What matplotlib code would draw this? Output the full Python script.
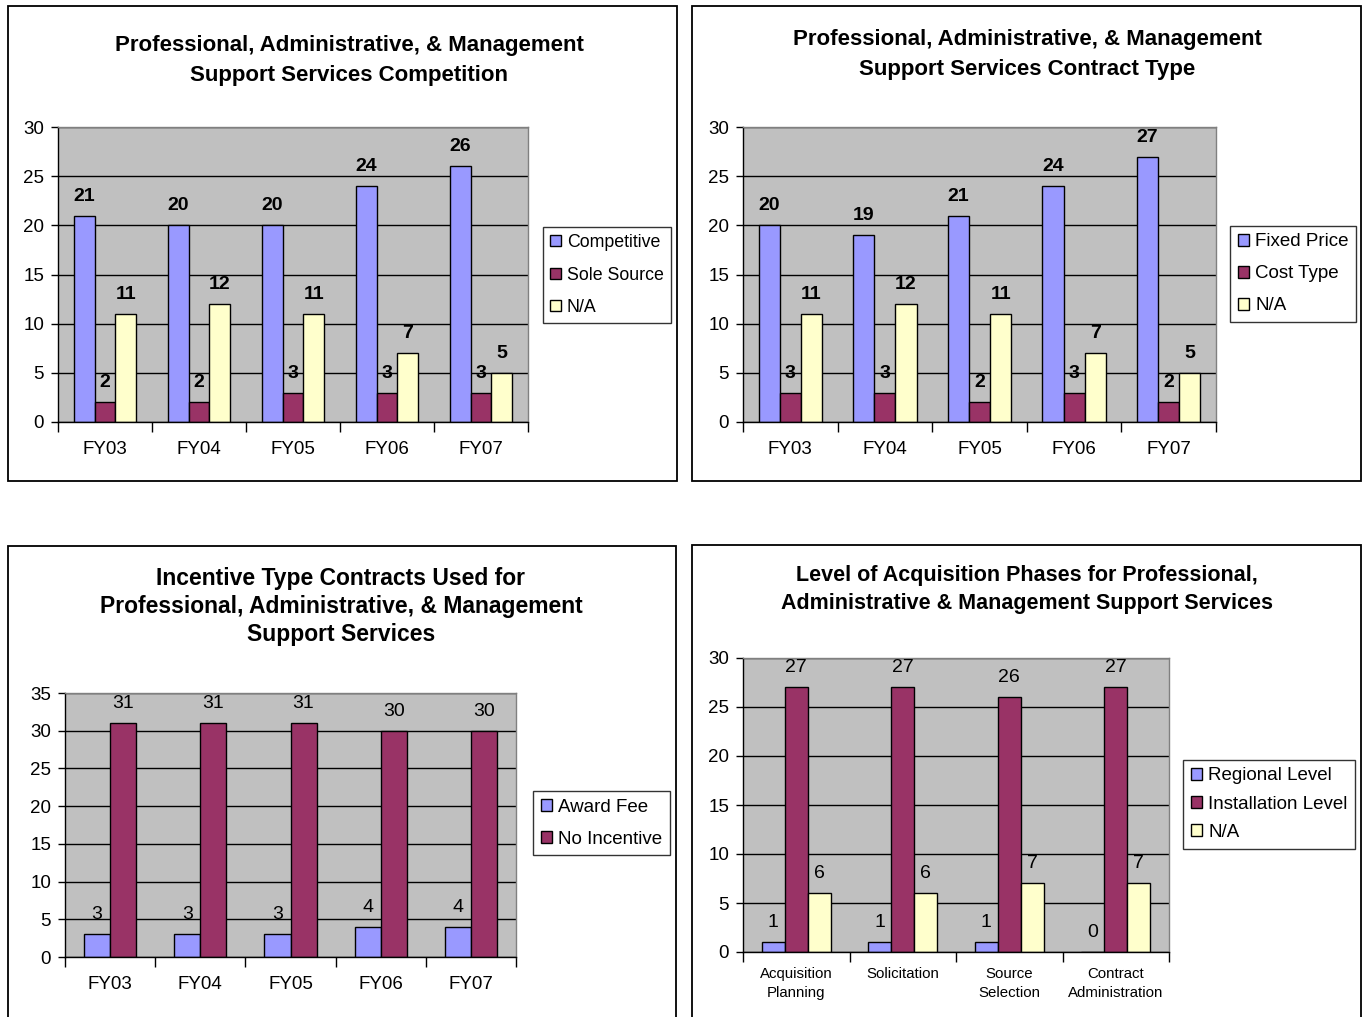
import numpy as np
import matplotlib
matplotlib.use("Agg")
import matplotlib.pyplot as plt
from matplotlib.patches import Rectangle, Patch

plt.rcParams['font.family'] = ['Liberation Sans', 'DejaVu Sans']

# ---------------- data ----------------
years = ["FY03", "FY04", "FY05", "FY06", "FY07"]

comp_title = ["Professional, Administrative, & Management", "Support Services Competition"]
comp_series = ["Competitive", "Sole Source", "N/A"]
comp_competitive = [21, 20, 20, 24, 26]
comp_sole = [2, 2, 3, 3, 3]
comp_na = [11, 12, 11, 7, 5]

ctype_title = ["Professional, Administrative, & Management", "Support Services Contract Type"]
ctype_series = ["Fixed Price", "Cost Type", "N/A"]
ctype_fixed = [20, 19, 21, 24, 27]
ctype_cost = [3, 3, 2, 3, 2]
ctype_na = [11, 12, 11, 7, 5]

inc_title = ["Incentive Type Contracts Used for",
             "Professional, Administrative, & Management",
             "Support Services"]
inc_series = ["Award Fee", "No Incentive"]
inc_award = [3, 3, 3, 4, 4]
inc_none = [31, 31, 31, 30, 30]

phase_title = ["Level of Acquisition Phases for Professional,",
               "Administrative & Management Support Services"]
phases = ["Acquisition\nPlanning", "Solicitation", "Source\nSelection", "Contract\nAdministration"]
phase_series = ["Regional Level", "Installation Level", "N/A"]
phase_regional = [1, 1, 1, 0]
phase_install = [27, 27, 26, 27]
phase_na = [6, 6, 7, 7]

# ---------------- styling ----------------
W, H = 1367, 1017
BLUE, PLUM, CREAM = "#9999FF", "#993366", "#FFFFCC"
PLOT_BG = "#C0C0C0"

fig = plt.figure(figsize=(W / 100, H / 100), dpi=100)


def frect(x0, y0, x1, y1):
    return [x0 / W, 1 - y1 / H, (x1 - x0) / W, (y1 - y0) / H]


def panel_border(x0, y0, x1, y1):
    fig.patches.append(Rectangle((x0 / W, 1 - y1 / H), (x1 - x0) / W, (y1 - y0) / H,
                                 transform=fig.transFigure, fill=False,
                                 edgecolor="black", linewidth=1.3))


def title_lines(lines, cx, ys, size=16):
    for line, y in zip(lines, ys):
        fig.text(cx / W, 1 - (y + 2) / H, line, ha="center", va="center",
                 fontsize=size, fontweight="bold")


def bar_chart(axrect, cats, series, names, colors, ymax, step, width,
              label_bold, label_size=14, xtick_size=13.5, xtick_pad=13.5,
              legend_box=None, legend_size=13.5, legend_spacing=0.75):
    ax = fig.add_axes(frect(*axrect))
    ax.set_facecolor(PLOT_BG)
    n = len(cats)
    k = len(series)
    x = np.arange(n)
    for i, (vals, col) in enumerate(zip(series, colors)):
        pos = x + (i - (k - 1) / 2) * width
        ax.bar(pos, vals, width=width, color=col, edgecolor="black",
               linewidth=1.0, zorder=2)
        for px, v in zip(pos, vals):
            ax.annotate(str(v), (px, v), xytext=(0, 14), textcoords="offset points",
                        ha="center", va="center", fontsize=label_size,
                        fontweight="bold" if label_bold else "normal", zorder=5)
    ax.set_xlim(-0.5, n - 0.5)
    ax.set_ylim(0, ymax)
    ax.set_yticks(np.arange(0, ymax + 0.1, step))
    ax.yaxis.grid(True, color="black", linewidth=1.0)
    ax.set_axisbelow(True)
    ax.set_xticks(x)
    ax.set_xticklabels(cats, fontsize=xtick_size, linespacing=1.45)
    ax.set_xticks(np.arange(-0.5, n, 1.0), minor=True)
    ax.tick_params(axis="x", which="major", length=0, pad=xtick_pad)
    ax.tick_params(axis="x", which="minor", length=7, width=1, direction="out")
    ax.tick_params(axis="y", length=5, width=1, direction="out", labelsize=13.5, pad=5)
    for s in ("left", "bottom"):
        ax.spines[s].set_color("black")
        ax.spines[s].set_linewidth(1.0)
    for s in ("top", "right"):
        ax.spines[s].set_color("#808080")
        ax.spines[s].set_linewidth(1.0)
    if legend_box is not None:
        handles = [Patch(facecolor=c, edgecolor="black", linewidth=1.0) for c in colors]
        lx0, ly0 = legend_box
        leg = ax.legend(handles, names, loc="upper left",
                        bbox_to_anchor=(lx0 / W, 1 - ly0 / H),
                        bbox_transform=fig.transFigure, borderaxespad=0,
                        fontsize=legend_size, frameon=True, fancybox=False, shadow=False,
                        handlelength=0.6, handleheight=0.6, handletextpad=0.35,
                        labelspacing=legend_spacing, borderpad=0.4)
        leg.get_frame().set_edgecolor("black")
        leg.get_frame().set_linewidth(1.0)
    return ax


# ---------------- panel 1 ----------------
panel_border(8, 6, 677, 481)
title_lines(comp_title, 349, [44, 74])
bar_chart((58, 127, 528, 422), years, [comp_competitive, comp_sole, comp_na],
          comp_series, [BLUE, PLUM, CREAM], 30, 5, 0.223, True,
          legend_box=(543, 227), legend_size=12.8, legend_spacing=0.87)

# ---------------- panel 2 ----------------
panel_border(692, 6, 1361, 481)
title_lines(ctype_title, 1027, [37, 67])
bar_chart((743, 127, 1216, 422), years, [ctype_fixed, ctype_cost, ctype_na],
          ctype_series, [BLUE, PLUM, CREAM], 30, 5, 0.223, True,
          legend_box=(1230, 226), legend_size=13.5, legend_spacing=0.8)

# ---------------- panel 3 ----------------
panel_border(8, 546, 676, 1030)
title_lines(inc_title, 341, [576, 604, 632], size=16.5)
bar_chart((65, 693, 516, 957), years, [inc_award, inc_none],
          inc_series, [BLUE, PLUM], 35, 5, 0.29, False,
          legend_box=(533, 791), legend_size=13.5, legend_spacing=0.8)

# ---------------- panel 4 ----------------
panel_border(692, 545, 1361, 1030)
title_lines(phase_title, 1027, [574, 601], size=15.5)
bar_chart((743, 658, 1169, 952), phases, [phase_regional, phase_install, phase_na],
          phase_series, [BLUE, PLUM, CREAM], 30, 5, 0.216, False,
          xtick_size=10.8, xtick_pad=10.5, legend_box=(1183, 760),
          legend_size=13.5, legend_spacing=0.6)

fig.savefig("out.png", dpi=100)
